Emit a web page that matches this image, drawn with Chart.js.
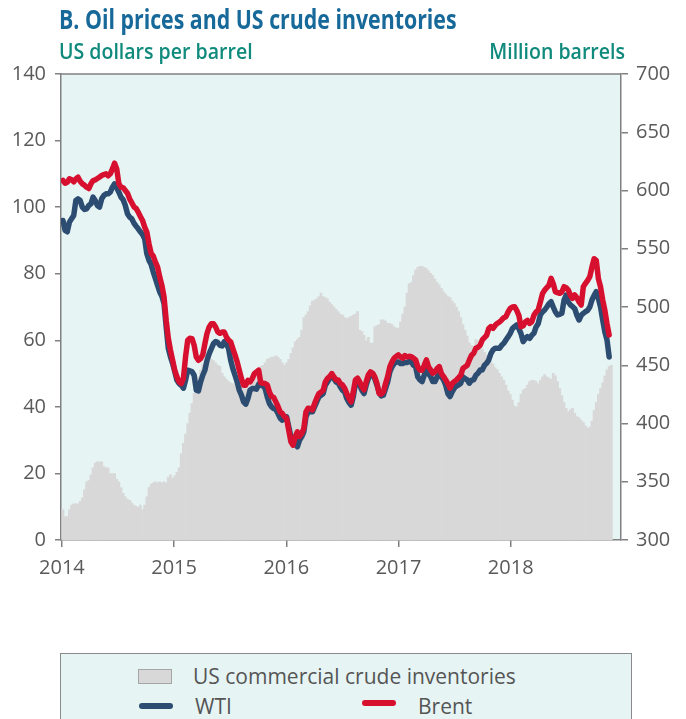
<!DOCTYPE html>
<html><head><meta charset="utf-8">
<script src="https://cdn.jsdelivr.net/npm/chart.js@4.4.1/dist/chart.umd.min.js"></script>
<style>
html,body{margin:0;padding:0;background:#fff;width:686px;height:719px;overflow:hidden;font-family:'Open Sans',sans-serif;}
#wrap{position:relative;width:686px;height:719px;}
#c{position:absolute;left:0;top:0;}
.t{position:absolute;white-space:nowrap;line-height:1;}
#title{left:59px;top:6px;font-size:26px;font-weight:700;color:#17699a;transform:scaleX(0.82);transform-origin:0 0;}
#ul{left:59px;top:41px;font-size:21px;font-weight:600;color:#0f8a7c;transform:scaleX(0.93);transform-origin:0 0;}
#ur{right:61px;top:41px;font-size:21px;font-weight:600;color:#0f8a7c;transform:scaleX(0.93);transform-origin:100% 0;}
#legend{position:absolute;left:60px;top:653px;width:572px;height:90px;background:#e7f4f4;border:1px solid #8a8a8a;box-sizing:border-box;}
#legend .t{font-size:21px;color:#555;}
.sw{position:absolute;}
</style></head>
<body><div id="wrap">
<canvas id="c" width="686" height="719"></canvas>
<div class="t" id="title">B. Oil prices and US crude inventories</div>
<div class="t" id="ul">US dollars per barrel</div>
<div class="t" id="ur">Million barrels</div>
<div id="legend">
  <div class="sw" style="left:77px;top:15px;width:34px;height:15px;background:#d9d8d8;border:1px solid #a5a5a5;box-sizing:border-box;"></div>
  <div class="t" style="left:132px;top:12px;">US commercial crude inventories</div>
  <div class="sw" style="left:78px;top:49px;width:34px;height:6px;border-radius:3px;background:#2c4d71;"></div>
  <div class="t" style="left:134px;top:42px;">WTI</div>
  <div class="sw" style="left:301px;top:46px;width:34px;height:6px;border-radius:3px;background:#d6102e;"></div>
  <div class="t" style="left:357px;top:42px;">Brent</div>
</div>
</div>
<script>
// Weekly series, first week starting 1 Jan 2014
const startYear = 2014;
const yearTicks = [2014, 2015, 2016, 2017, 2018];

// WTI, US dollars per barrel (weekly)
const wti = [
96,93,92.6,95.5,96.5,97.5,102,102.5,102,100,
99.3,99.5,100.5,101,103,102,100.5,100,102.5,103.5,
104,104,104.5,106,107,105.8,104.5,103,102.2,100.5,
98,97,96.5,95.2,94.3,93.5,92.6,91.8,90.5,86,
84,82.8,80.5,78.5,76.5,74.5,73.2,71,64,57.5,
55,53,50.5,48,47,46.5,45.6,48,51,50.8,
50.6,49.5,45,44.8,47.5,49.5,51,54,56,57.5,
59,59.6,59.3,58.5,58.3,59.6,59,57.5,54,51.5,
49.5,47.5,45,43.5,41.5,40.8,42.5,45,45.5,45.5,
45.3,46.8,46.5,46.3,45.5,43,41,40,39.5,39.2,
38,36.6,36,36.5,37,34,31,29.5,29,28,
30,31,32.5,37,38.5,38.5,38.5,40,41.5,43,
43.5,44,46.5,47.5,48.5,49.5,48.5,47.5,47.2,46,
45,44.5,42.5,41.3,40.5,43,47,47.2,46.5,45,
44,46.5,48.5,49.5,50,48.5,46.5,44.5,43.3,43.5,
45.5,47.5,50.5,52,53,53.5,53.5,53,53,53.3,
53.3,53.6,53.6,52.5,52.1,49,48.1,47.6,49.5,51.1,
50,49.1,47.6,47.6,49,50.1,49,48.1,46.5,44,
43.1,44.5,45.6,46.3,46.6,47.1,49,48.5,48.1,47.1,
48,48.1,49.5,50.1,51.1,51.1,52.5,53.1,54.1,56,
57.1,57.6,57.6,57.6,58.5,59.1,60.1,61,62.1,63.5,
64.1,64.6,63.5,62,59.6,60.5,61.1,60.6,61.5,62.1,
64,65,67.6,68.5,69.1,70,71,71.6,70,68.5,
67.6,67.8,68.1,72,73.6,71.5,70.6,70.1,69.5,67.5,
66.1,67.5,68.1,68.6,69,70,72.1,73.5,74.6,72.5,
70,66.1,62.5,60.1,55
];

// Brent, US dollars per barrel (weekly)
const brent = [
108,107.2,107.5,108.5,108.2,107.6,108.5,109,107.8,107,
106.6,106,105.6,107,108,108.2,108.6,109,109.5,109.8,
110,109.4,110,111.5,113.2,111.5,107,106,105.8,105,
104.2,102.5,101.3,100.1,99.6,98.5,97.2,96,94,92.5,
89,86.1,85.3,83.5,82,79,76.5,73,66,60.5,
57,54,51,49,47.5,47,48.5,55,60,60.6,
60.5,58.5,55,54,54.5,55.6,59,62.1,64,65,
65,64,62.5,62.1,62.5,62.5,61,60,59.5,57.5,
55.6,53.5,51,48.5,46.5,46.5,48,47.5,48.5,50,
50.5,51,47.2,47.1,47,46.6,44.5,43.1,42.8,41.5,
40.1,38.5,38,37.1,36.5,33,29.5,28.5,31,32.5,
31.1,32,33.5,38.5,39.6,39.5,39.1,41,42.6,44,
44.4,45,47.5,48.5,49.1,50,49,48.1,48.1,47,
46.6,45.6,44,42.6,41.5,44.5,48.1,48.6,47.5,46,
45.1,47.5,49.6,50.5,50.1,49,47.1,44,43.8,44.5,
47,49.1,52,53.5,54.6,55.2,55.6,55,54.6,55.4,
55,55.2,55.1,54.6,54.1,52,51.1,51,52.5,54.1,
52,51.1,50.1,50.5,51.5,52.1,50,49.1,48.1,47,
45.6,47,47.6,48.1,48.8,49.5,51.6,52,52.5,54.1,
55.5,56.1,57.6,57.9,58.5,60.1,60.8,61.5,63.5,64.1,
63.6,64.5,65.1,65.5,66.1,66.8,67.1,68.5,69.6,70,
70.1,69,67.5,64.1,64.3,65.5,66,65.1,65.5,67.5,
68.5,69.1,71.5,74,75.1,75.8,76.5,78.6,77,74.6,
74.3,74.1,74.5,76.1,75.8,75.1,73.5,72.6,73.6,72.8,
71.5,70.6,76.1,77.1,78,79.1,82,84.5,84,78.5,
76,72.1,69,65,61.6
];

// US commercial crude inventories, million barrels (weekly)
const inventories = [
326,320,320,326,330,331,331,331,333,336,
343,350,351,356,362,366,367,367,367,363,
362,362,357,357,357,352,350,345,340,337,
335,334,332,330,329,328,330,326,330,337,
345,348,349,350,349,350,349,350,349,354,
356,353,355,358,362,374,383,391,400,409,
417,426,434,440,446,451,454,457,457,455,
454,452,450,449,443,440,438,436,435,434,
435,433,432,431,430,430,431,433,436,440,
442,446,449,450,452,455,456,457,457,458,
457,455,452,450,452,455,460,465,470,472,
474,480,491,493,496,501,505,506,507,509,
512,509,508,507,504,502,500,498,496,494,
493,491,490,491,492,493,494,496,480,479,
476,471,474,469,469,483,484,485,489,489,
488,486,486,485,483,482,482,487,494,500,
512,520,521,527,532,534,535,535,534,533,
531,529,527,524,521,519,516,513,511,509,
508,505,503,500,496,491,485,480,475,469,
467,466,472,471,468,464,461,459,456,453,
451,448,446,443,440,437,433,428,425,420,
415,414,418,425,429,430,433,436,437,437,
436,434,437,440,442,440,439,438,443,441,
436,430,424,418,413,410,412,413,409,406,
405,403,401,398,396,397,402,411,418,425,
430,435,441,446,449,450
];

const weekX = i => startYear + (i + 0.5) * 7 / 365.25;
const toPts = arr => arr.map((v, i) => ({x: weekX(i), y: v}));

const AXIS = '#808080', LABEL = '#5a5a5a', BG = '#e7f4f4';
const FONT = {family: "'Open Sans', sans-serif", size: 20};

const bgPlugin = {
  id: 'bg',
  beforeDraw(chart) {
    const {ctx, chartArea: a} = chart;
    ctx.save();
    ctx.fillStyle = BG;
    ctx.fillRect(a.left, a.top, a.right - a.left, a.bottom - a.top);
    ctx.restore();
  },
  beforeDatasetsDraw(chart) {
    const {ctx, chartArea: a} = chart;
    ctx.save();
    ctx.strokeStyle = AXIS; ctx.lineWidth = 1.5;
    ctx.beginPath(); ctx.moveTo(a.left, a.top); ctx.lineTo(a.right, a.top); ctx.stroke();
    ctx.restore();
  }
};

const xMin = 2013.992, xMax = 2018.983;

new Chart(document.getElementById('c'), {
  data: {
    datasets: [
      {type: 'line', label: 'Brent', data: toPts(brent), yAxisID: 'y', borderColor: '#d6102e', borderWidth: 5.5,
       pointRadius: 0, tension: 0, borderJoinStyle: 'round', borderCapStyle: 'round', order: 0},
      {type: 'line', label: 'WTI', data: toPts(wti), yAxisID: 'y', borderColor: '#2c4d71', borderWidth: 5.5,
       pointRadius: 0, tension: 0, borderJoinStyle: 'round', borderCapStyle: 'round', order: 1},
      {type: 'bar', label: 'US commercial crude inventories', data: toPts(inventories), yAxisID: 'y1',
       backgroundColor: '#d9d8d8', borderWidth: 0, barPercentage: 1, categoryPercentage: 1, grouped: false, order: 2}
    ]
  },
  options: {
    responsive: false, animation: false, devicePixelRatio: 1,
    layout: {padding: {top: 74, bottom: 139, left: 0, right: 0}},
    plugins: {legend: {display: false}, tooltip: {enabled: false}},
    scales: {
      x: {
        type: 'linear', position: 'bottom', min: xMin, max: xMax, offset: false,
        afterBuildTicks: s => { s.ticks = yearTicks.map(v => ({value: v})); },
        ticks: {callback: v => String(Math.round(v)), font: FONT, color: LABEL, padding: 9, maxRotation: 0, autoSkip: false},
        grid: {offset: false, drawOnChartArea: false, drawTicks: true, tickLength: 7, color: AXIS, lineWidth: 1.5},
        border: {color: AXIS, width: 1.5},
        afterFit: s => { s.height = 40; }
      },
      y: {
        type: 'linear', position: 'left', min: 0, max: 140,
        ticks: {stepSize: 20, font: FONT, color: LABEL, padding: 9},
        grid: {drawOnChartArea: false, drawTicks: true, tickLength: 6, color: AXIS, lineWidth: 1.5},
        border: {color: AXIS, width: 1.5},
        afterFit: s => { s.width = 61; }
      },
      y1: {
        type: 'linear', position: 'right', min: 300, max: 700,
        ticks: {stepSize: 50, font: FONT, color: LABEL, padding: 8},
        grid: {drawOnChartArea: false, drawTicks: true, tickLength: 7, color: AXIS, lineWidth: 1.5},
        border: {color: AXIS, width: 1.5},
        afterFit: s => { s.width = 65; }
      }
    }
  },
  plugins: [bgPlugin]
});
</script>
</body></html>
